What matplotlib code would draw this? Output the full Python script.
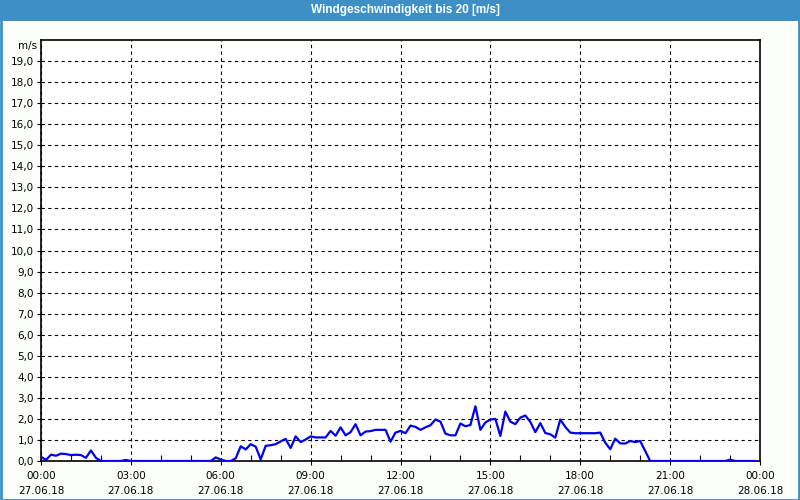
import matplotlib
matplotlib.use("Agg")
import matplotlib.pyplot as plt
import matplotlib.dates as mdates
from matplotlib.patches import Rectangle
from matplotlib.ticker import FixedLocator, FuncFormatter
import pandas as pd

TITLE = "Windgeschwindigkeit bis 20 [m/s]"
DAY = "2018-06-27"

# sample times (27.06.18) and wind speed in m/s
times = [
    "00:00", "00:10", "00:20", "00:30", "00:40", "00:50", "01:00", "01:10",
    "01:20", "01:30", "01:40", "01:50", "02:00", "02:40", "02:50", "03:00",
    "05:40", "05:50", "06:00", "06:10", "06:20", "06:30", "06:40", "06:50",
    "07:00", "07:10", "07:20", "07:30", "07:40", "07:50", "08:00", "08:10",
    "08:20", "08:30", "08:40", "08:50", "09:00", "09:10", "09:20", "09:30",
    "09:40", "09:50", "10:00", "10:10", "10:20", "10:30", "10:40", "10:50",
    "11:00", "11:10", "11:20", "11:30", "11:40", "11:50", "12:00", "12:10",
    "12:20", "12:30", "12:40", "12:50", "13:00", "13:10", "13:20", "13:30",
    "13:40", "13:50", "14:00", "14:10", "14:20", "14:30", "14:40", "14:50",
    "15:00", "15:10", "15:20", "15:30", "15:40", "15:50", "16:00", "16:10",
    "16:20", "16:30", "16:40", "16:50", "17:00", "17:10", "17:20", "17:30",
    "17:40", "17:50", "18:00", "18:10", "18:20", "18:30", "18:40", "18:50",
    "19:00", "19:10", "19:20", "19:30", "19:40", "19:50", "20:00", "20:10",
    "20:20", "22:50", "23:00", "23:10", "23:50",
]
speeds = [
    0.20, 0.05, 0.30, 0.25, 0.35, 0.33, 0.28, 0.30,
    0.28, 0.15, 0.50, 0.15, 0.00, 0.00, 0.05, 0.00,
    0.00, 0.17, 0.07, 0.00, 0.00, 0.13, 0.70, 0.55,
    0.80, 0.68, 0.08, 0.72, 0.75, 0.80, 0.93, 1.05,
    0.62, 1.17, 0.90, 1.02, 1.17, 1.12, 1.12, 1.12,
    1.43, 1.20, 1.60, 1.22, 1.37, 1.75, 1.22, 1.40,
    1.42, 1.48, 1.48, 1.48, 0.92, 1.35, 1.43, 1.32,
    1.68, 1.62, 1.48, 1.60, 1.70, 1.97, 1.87, 1.30,
    1.22, 1.22, 1.78, 1.65, 1.71, 2.60, 1.48, 1.83,
    1.97, 2.00, 1.19, 2.35, 1.87, 1.75, 2.06, 2.16,
    1.86, 1.37, 1.80, 1.33, 1.27, 1.11, 1.97, 1.62,
    1.35, 1.32, 1.32, 1.32, 1.32, 1.32, 1.35, 0.87,
    0.56, 1.06, 0.84, 0.83, 0.95, 0.90, 0.95, 0.48,
    0.00, 0.00, 0.06, 0.00, 0.00,
]
y_ticks = list(range(0, 20))

BLUE_FRAME = "#3d8fc6"
LINE_BLUE = "#0000ee"

t = pd.to_datetime([f"{DAY} {s}" for s in times])
start = pd.Timestamp(f"{DAY} 00:00")
end = start + pd.Timedelta(days=1)

fig = plt.figure(figsize=(8, 5), dpi=100)
fig.patch.set_facecolor("#fcfefc")
plt.rcParams["font.family"] = ["DejaVu Sans"]

# title bar and outer frame
fig.patches.append(Rectangle((0, 0.958), 1, 0.042, transform=fig.transFigure,
                             facecolor=BLUE_FRAME, edgecolor="none", zorder=0))
fig.patches.append(Rectangle((0.001, 0.001), 0.998, 0.998, transform=fig.transFigure,
                             facecolor="none", edgecolor=BLUE_FRAME, lw=2, zorder=1))
fig.text(0.507, 0.979, TITLE, color="white", fontsize=8.5, fontweight="bold",
         family=["Liberation Sans", "DejaVu Sans"], ha="center", va="center")

ax = fig.add_axes([41 / 800, 39 / 500, 719 / 800, 421 / 500])
ax.set_facecolor("white")
ax.plot(t, speeds, color=LINE_BLUE, lw=1.6, zorder=3)

ax.set_xlim(start, end)
ax.set_ylim(0, 20)

ax.yaxis.set_major_locator(FixedLocator(y_ticks))
ax.yaxis.set_major_formatter(FuncFormatter(lambda v, p: f"{v:.1f}".replace(".", ",")))
ax.xaxis.set_major_locator(mdates.HourLocator(byhour=range(0, 24, 3)))
ax.xaxis.set_minor_locator(mdates.HourLocator())
ax.xaxis.set_major_formatter(mdates.DateFormatter("%H:%M\n%d.%m.%y"))

ax.tick_params(axis="both", which="major", labelsize=7.5, colors="black",
               length=3, width=0.8)
ax.tick_params(axis="x", which="major", pad=4)
ax.tick_params(axis="x", which="minor", direction="in", length=4, width=0.8)
ax.tick_params(axis="y", pad=2)
for lbl in ax.get_xticklabels():
    lbl.set_linespacing(1.7)

ax.grid(True, which="major", color="black", linestyle=(0, (3, 3)), linewidth=0.8)
for sp in ax.spines.values():
    sp.set_color("black")
    sp.set_linewidth(1.2)

ax.text(-0.005, 20 - 0.3, "m/s", transform=ax.get_yaxis_transform(),
        ha="right", va="center", fontsize=7.5)

fig.savefig("out.png", dpi=100, facecolor=fig.get_facecolor())
